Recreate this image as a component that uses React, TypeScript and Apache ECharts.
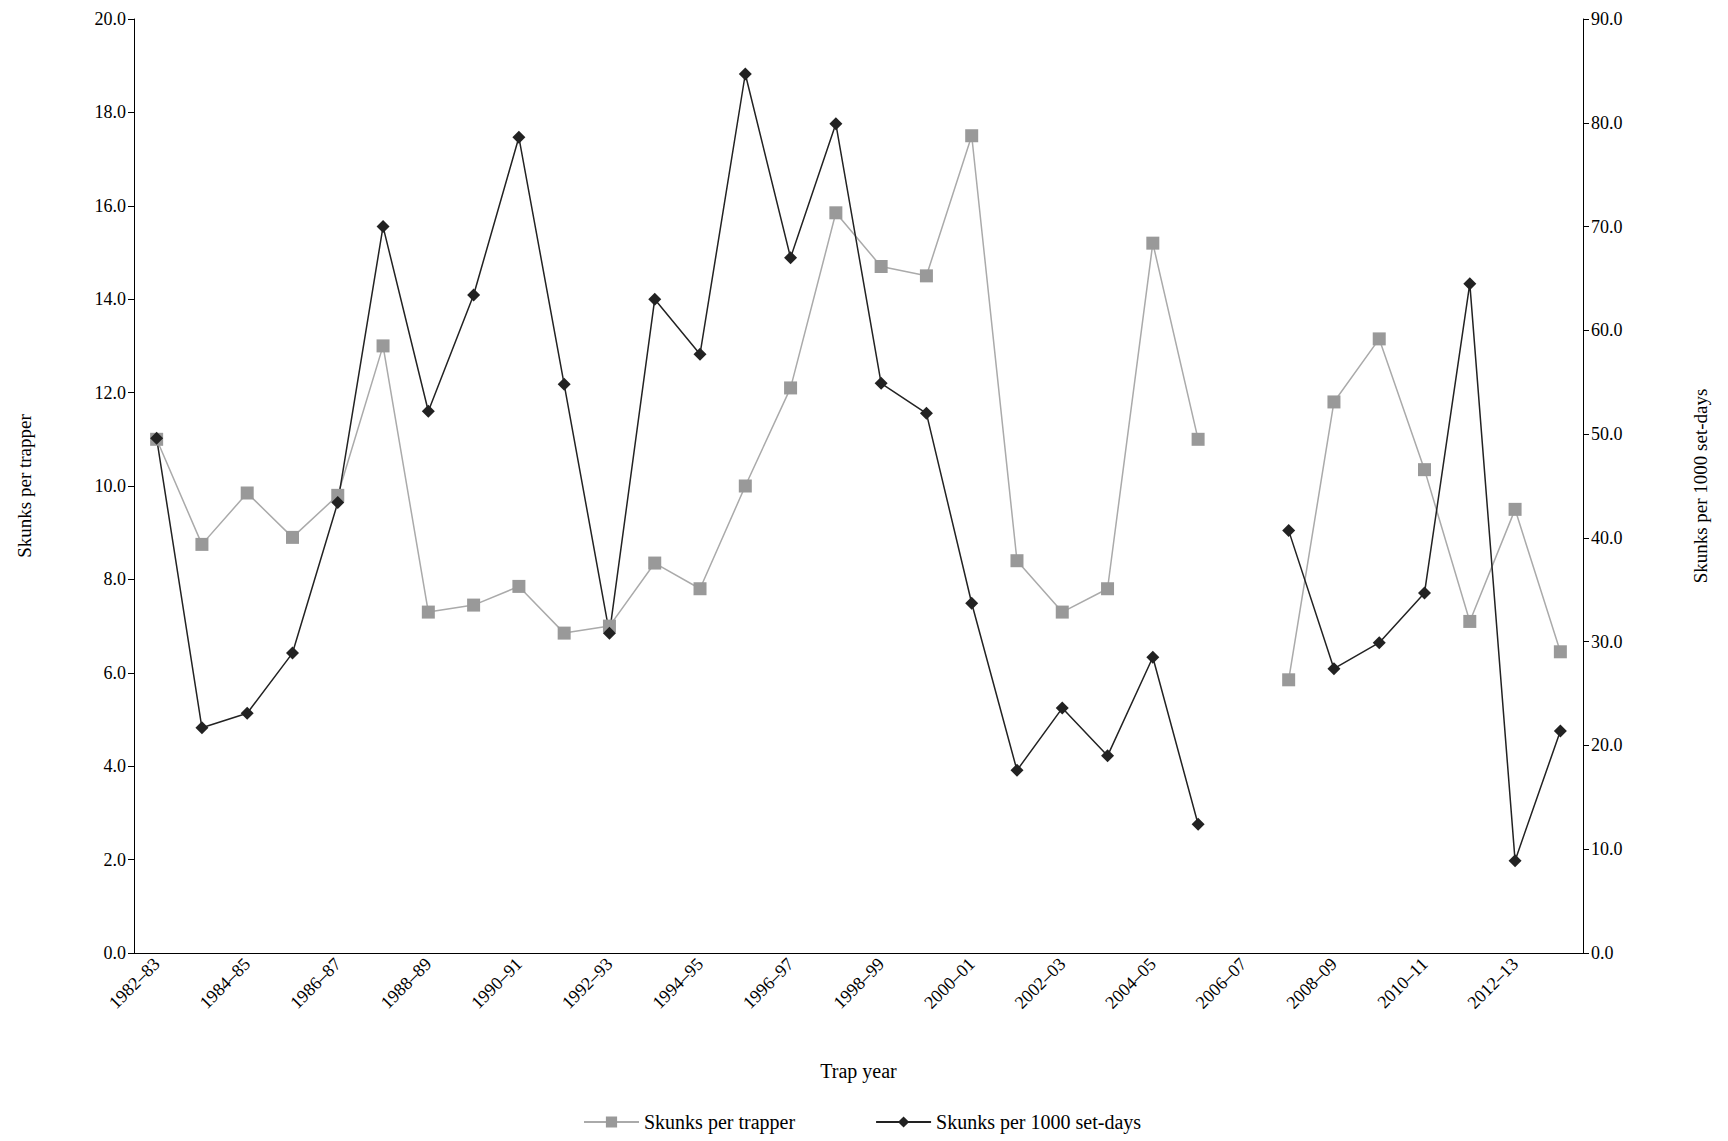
import React, { useEffect, useRef } from "react";
import * as echarts from "echarts";

const years: string[] = [];
for (let y = 1982; y <= 2013; y++) years.push(`${y}–${String((y + 1) % 100).padStart(2, "0")}`);
const perTrapper = [11.0, 8.75, 9.85, 8.9, 9.8, 13.0, 7.3, 7.45, 7.85, 6.85, 7.0, 8.35, 7.8, 10.0, 12.1, 15.85, 14.7, 14.5, 17.5, 8.4, 7.3, 7.8, 15.2, 11.0, null, 5.85, 11.8, 13.15, 10.35, 7.1, 9.5, 6.45];
const perSetDays = [49.6, 21.7, 23.1, 28.9, 43.4, 70.0, 52.2, 63.4, 78.6, 54.8, 30.8, 63.0, 57.7, 84.7, 67.0, 79.9, 54.9, 52.0, 33.7, 17.6, 23.6, 19.0, 28.5, 12.4, null, 40.7, 27.4, 29.9, 34.7, 64.5, 8.9, 21.4];

const font = "Liberation Serif";

export default function App() {
  const ref = useRef<HTMLDivElement>(null);
  useEffect(() => {
    const chart = echarts.init(ref.current!, null, { renderer: "svg" });
    const axisCommon = {
      axisLine: { show: true, lineStyle: { color: "#000" } },
      axisTick: { show: true, inside: false, length: 6, lineStyle: { color: "#000" } },
      splitLine: { show: false },
      axisLabel: { color: "#000", fontFamily: font, fontSize: 18, formatter: (v: number) => v.toFixed(1) },
      nameLocation: "middle" as const,
      nameTextStyle: { color: "#000", fontFamily: font, fontSize: 19 },
    };
    chart.setOption({
      animation: false,
      grid: { left: 134, right: 145, top: 19, bottom: 188 },
      legend: {
        bottom: 4,
        left: 578,
        itemWidth: 55,
        itemGap: 80,
        textStyle: { fontFamily: font, fontSize: 20, color: "#000" },
        data: ["Skunks per trapper", "Skunks per 1000 set-days"],
      },
      xAxis: {
        type: "category",
        data: years,
        name: "Trap year",
        nameLocation: "middle",
        nameGap: 108,
        nameTextStyle: { color: "#000", fontFamily: font, fontSize: 20 },
        axisLine: { lineStyle: { color: "#000" } },
        axisTick: { lineStyle: { color: "#000" }, length: 6 },
        axisLabel: { interval: 1, rotate: 45, color: "#000", fontFamily: font, fontSize: 18 },
      },
      yAxis: [
        { ...axisCommon, type: "value", min: 0, max: 20, interval: 2, name: "Skunks per trapper", nameGap: 100, position: "left" },
        { ...axisCommon, type: "value", min: 0, max: 90, interval: 10, name: "Skunks per 1000 set-days", nameGap: 108, nameRotate: 90, position: "right" },
      ],
      series: [
        {
          name: "Skunks per trapper",
          type: "line",
          yAxisIndex: 0,
          data: perTrapper,
          symbol: "rect",
          symbolSize: 13,
          itemStyle: { color: "#999" },
          lineStyle: { color: "#aaa", width: 1.5 },
        },
        {
          name: "Skunks per 1000 set-days",
          type: "line",
          yAxisIndex: 1,
          data: perSetDays,
          symbol: "diamond",
          symbolSize: 13,
          itemStyle: { color: "#222" },
          lineStyle: { color: "#222", width: 1.5 },
        },
      ],
    });
    return () => chart.dispose();
  }, []);
  return <div ref={ref} style={{ position: "absolute", left: 0, top: 0, width: 1728, height: 1141, background: "#fff" }} />;
}
